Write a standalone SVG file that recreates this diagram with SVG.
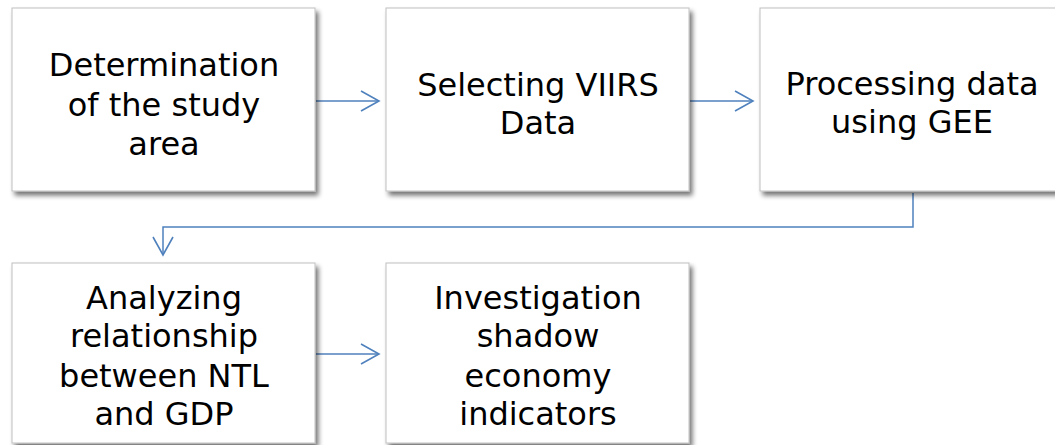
<svg xmlns="http://www.w3.org/2000/svg" width="1055" height="445" viewBox="0 0 1055 445">
<defs>
<style>
.box{fill:#fff;stroke:#c0c0c0;stroke-width:1;filter:url(#sh)}
.t{font-family:"DejaVu Sans",Verdana,sans-serif;font-size:32px;fill:#000;text-anchor:middle}
.c{fill:none;stroke:#4f81bd;stroke-width:1.5}
</style>
<filter id="sh" x="-10%" y="-10%" width="130%" height="130%">
<feGaussianBlur in="SourceAlpha" stdDeviation="2.5"/>
<feOffset dx="3" dy="4" result="b"/>
<feComponentTransfer><feFuncA type="linear" slope="0.55"/></feComponentTransfer>
<feMerge><feMergeNode/><feMergeNode in="SourceGraphic"/></feMerge>
</filter>
<marker id="ah" markerWidth="22" markerHeight="24" refX="19" refY="11" orient="auto" markerUnits="userSpaceOnUse">
<path d="M1,1 L19,11 L1,21" fill="none" stroke="#4f81bd" stroke-width="1.6"/>
</marker>
</defs>
<rect width="1055" height="445" fill="#fff"/>
<g id="connectors">
<path class="c" d="M316,101 H379" marker-end="url(#ah)"/>
<path class="c" d="M690,101 H753" marker-end="url(#ah)"/>
<path class="c" d="M913,193 V227 H163 V255" marker-end="url(#ah)"/>
<path class="c" d="M316,354 H379" marker-end="url(#ah)"/>
</g>
<g id="n1">
<rect class="box" x="12" y="8" width="303" height="183"/>
<text class="t" x="164" y="76">Determination</text>
<text class="t" x="164" y="116">of the study</text>
<text class="t" x="164" y="155">area</text>
</g>
<g id="n2">
<rect class="box" x="386" y="8" width="303" height="183"/>
<text class="t" x="538" y="96">Selecting VIIRS</text>
<text class="t" x="538" y="134">Data</text>
</g>
<g id="n3">
<rect class="box" x="760" y="8" width="303" height="183"/>
<text class="t" x="912" y="95">Processing data</text>
<text class="t" x="912" y="133">using GEE</text>
</g>
<g id="n4">
<rect class="box" x="12" y="263" width="303" height="180"/>
<text class="t" x="164" y="309">Analyzing</text>
<text class="t" x="164" y="347">relationship</text>
<text class="t" x="164" y="387">between NTL</text>
<text class="t" x="164" y="425">and GDP</text>
</g>
<g id="n5">
<rect class="box" x="386" y="263" width="303" height="180"/>
<text class="t" x="538" y="309">Investigation</text>
<text class="t" x="538" y="347">shadow</text>
<text class="t" x="538" y="387">economy</text>
<text class="t" x="538" y="425">indicators</text>
</g>
</svg>
